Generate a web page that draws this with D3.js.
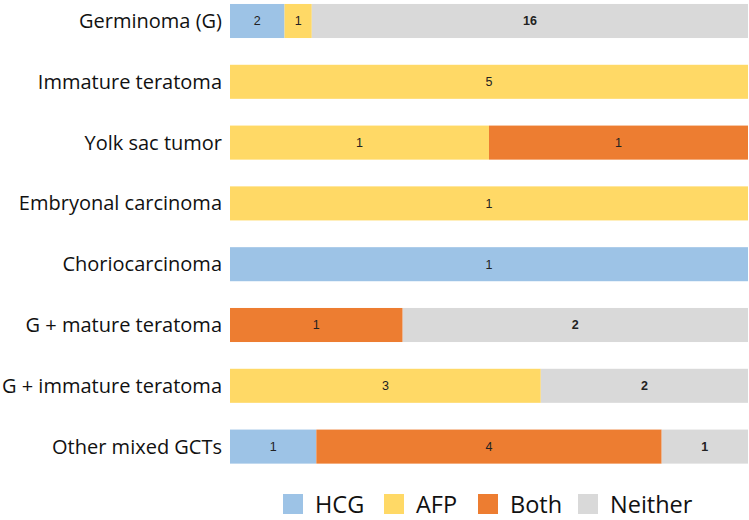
<!DOCTYPE html>
<html><head><meta charset="utf-8">
<script src="https://cdn.jsdelivr.net/npm/d3@7"></script>
<style>body{margin:0;background:#fff}svg{display:block}</style>
</head><body>
<svg id="c" width="749" height="520"></svg>
<script>
const categories = ["Germinoma (G)","Immature teratoma","Yolk sac tumor","Embryonal carcinoma","Choriocarcinoma","G + mature teratoma","G + immature teratoma","Other mixed GCTs"];
const seriesNames = ["HCG","AFP","Both","Neither"];
const hcg =     [2,0,0,0,1,0,0,1];
const afp =     [1,5,1,1,0,0,3,0];
const both =    [0,0,1,0,0,1,0,4];
const neither = [16,0,0,0,0,2,2,1];
const colors = ["#9DC3E6","#FFD966","#ED7D31","#D9D9D9"];

const rows = categories.map((c,i)=>({cat:c, HCG:hcg[i], AFP:afp[i], Both:both[i], Neither:neither[i]}));
const stacked = d3.stack().keys(seriesNames).offset(d3.stackOffsetExpand)(rows);

const svg = d3.select("#c");
const x = d3.scaleLinear().domain([0,1]).range([230,748]);
const y = d3.scaleBand().domain(categories).range([-9.4,477]).paddingInner(0.44).paddingOuter(0.22);
const color = d3.scaleOrdinal().domain(seriesNames).range(colors);

const g = svg.append("g");
stacked.forEach(layer=>{
  const key = layer.key;
  layer.forEach((d,i)=>{
    const v = d.data[key];
    if(!v) return;
    g.append("rect").attr("x",x(d[0])).attr("y",y(d.data.cat))
      .attr("width",x(d[1])-x(d[0])).attr("height",y.bandwidth())
      .attr("fill",color(key));
    g.append("text").attr("x",(x(d[0])+x(d[1]))/2).attr("y",y(d.data.cat)+y.bandwidth()/2)
      .attr("dy","0.35em").attr("text-anchor","middle")
      .attr("font-family","Liberation Sans, Arial, sans-serif").attr("font-size",12.5)
      .attr("font-weight", key==="Neither"?"bold":"normal")
      .attr("fill","#222").text(v);
  });
});

const yAxis = d3.axisLeft(y).tickSize(0).tickPadding(8);
const ag = svg.append("g").attr("transform","translate(230,0)").call(yAxis);
ag.select(".domain").remove();
ag.selectAll("text").attr("font-family","Open Sans, sans-serif").attr("font-size",20).attr("fill","#111").attr("dy","0.35em");

const legX = [283,384,478,578];
const lg = svg.append("g");
seriesNames.forEach((s,i)=>{
  lg.append("rect").attr("x",legX[i]).attr("y",494).attr("width",20).attr("height",20).attr("fill",colors[i]);
  lg.append("text").attr("x",legX[i]+32).attr("y",513).attr("font-family","Open Sans, sans-serif")
    .attr("font-size",23.5).attr("fill","#111").text(s);
});
</script>
</body></html>
